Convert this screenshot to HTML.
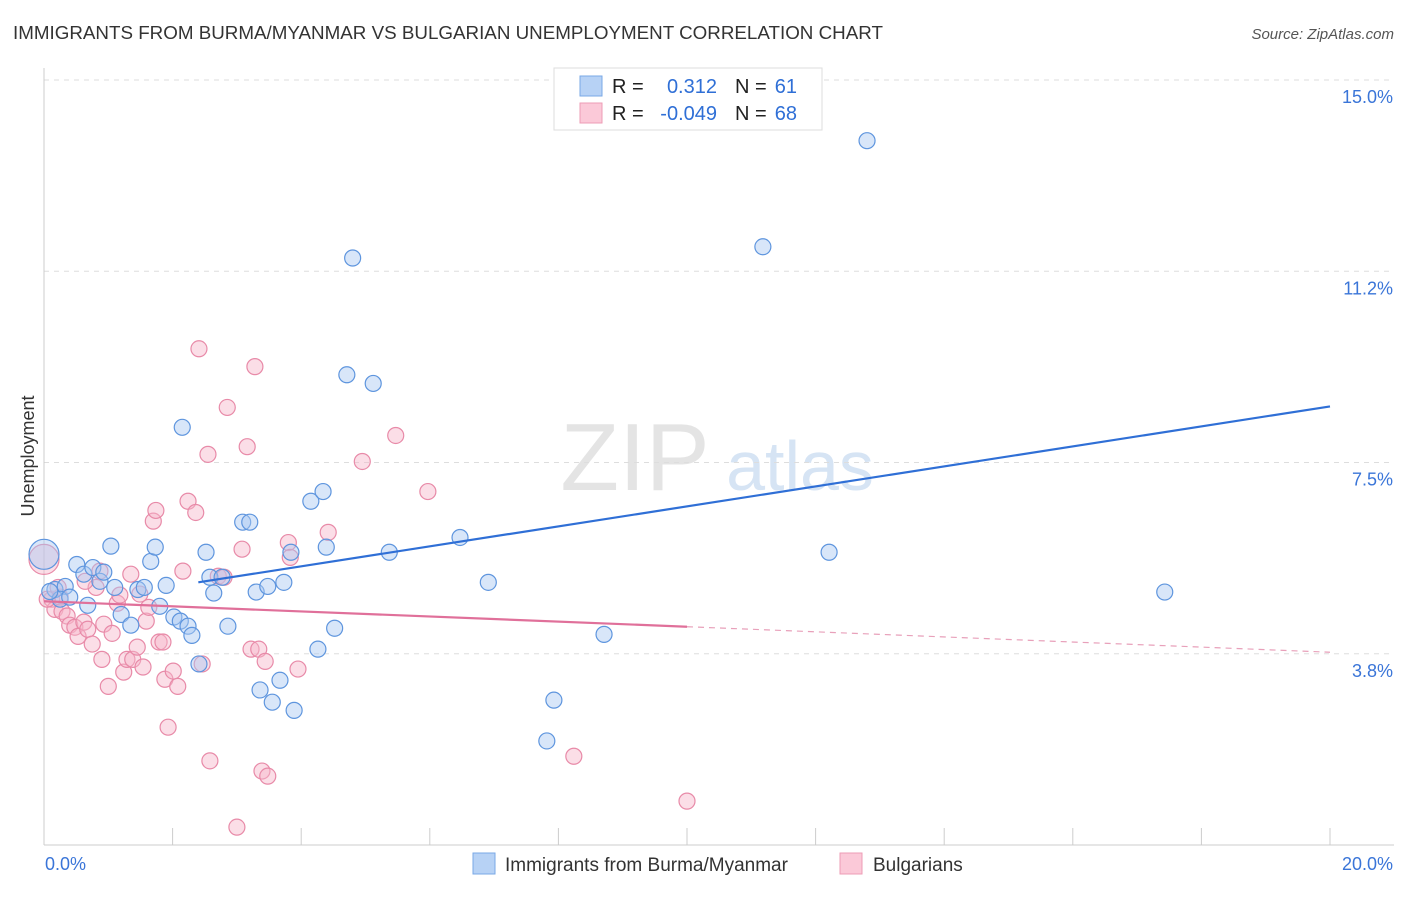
<!DOCTYPE html>
<html><head><meta charset="utf-8"><style>
body{margin:0;background:#fff;font-family:"Liberation Sans",sans-serif;}
svg text{font-family:"Liberation Sans",sans-serif;}
</style></head><body>
<svg id="chart" width="1406" height="892" xmlns="http://www.w3.org/2000/svg">
<text x="13" y="39" font-size="18.8" fill="#333">IMMIGRANTS FROM BURMA/MYANMAR VS BULGARIAN UNEMPLOYMENT CORRELATION CHART</text>
<text x="1394" y="39" font-size="15" fill="#555" text-anchor="end" font-style="italic">Source: ZipAtlas.com</text>
<g>
<text x="635" y="490" font-size="96" fill="#e4e4e4" text-anchor="middle" font-family="Liberation Serif">ZIP</text>
<text x="800" y="490" font-size="70" fill="#d6e4f4" text-anchor="middle">atlas</text>
</g>
<g id="grid"></g>
<g id="axes"></g>
<g id="marks"></g>
<g>
<rect x="554" y="68" width="268" height="62" fill="#fff" stroke="#ddd"/>
<rect x="580" y="76" width="22" height="20" fill="#b7d2f5" stroke="#7aa8e6"/>
<rect x="580" y="103" width="22" height="20" fill="#fbc9d8" stroke="#ee9cb6"/>
<text x="612" y="93" font-size="20" fill="#222">R =</text>
<text x="717" y="93" font-size="20" fill="#2f6fd6" text-anchor="end">0.312</text>
<text x="735" y="93" font-size="20" fill="#222">N =</text>
<text x="797" y="93" font-size="20" fill="#2f6fd6" text-anchor="end">61</text>
<text x="612" y="120" font-size="20" fill="#222">R =</text>
<text x="717" y="120" font-size="20" fill="#2f6fd6" text-anchor="end">-0.049</text>
<text x="735" y="120" font-size="20" fill="#222">N =</text>
<text x="797" y="120" font-size="20" fill="#2f6fd6" text-anchor="end">68</text>
</g>
<g>
<rect x="473" y="853" width="22" height="21" fill="#b7d2f5" stroke="#7aa8e6"/>
<text x="505" y="871" font-size="19" fill="#333">Immigrants from Burma/Myanmar</text>
<rect x="840" y="853" width="22" height="21" fill="#fbc9d8" stroke="#ee9cb6"/>
<text x="873" y="871" font-size="19" fill="#333">Bulgarians</text>
</g>
<text transform="translate(34,456) rotate(-90)" font-size="18" fill="#333" text-anchor="middle">Unemployment</text>
</svg>
<script>
const yTicks=[15.0,11.25,7.5,3.75];
const yTickLabels=["15.0%","11.2%","7.5%","3.8%"];
const xTickLabels=["0.0%","20.0%"];
const blueX=[0.00,0.17,0.33,0.51,0.62,0.68,0.76,0.87,0.93,1.04,1.10,1.20,1.35,1.46,1.56,1.66,1.73,1.80,1.90,2.02,2.15,2.12,2.24,2.30,2.41,2.52,2.58,2.64,2.77,2.86,3.09,3.20,3.30,3.36,3.48,3.55,3.67,3.73,3.84,3.89,4.15,4.26,4.34,4.39,4.52,4.71,4.80,5.12,5.37,6.47,6.91,7.82,7.93,8.71,11.18,12.21,12.80,17.43,0.25,0.40,0.09];
const blueY=[5.70,5.01,5.07,5.50,5.31,4.70,5.44,5.17,5.35,5.86,5.05,4.52,4.31,5.01,5.05,5.56,5.84,4.68,5.09,4.47,8.19,4.39,4.29,4.11,3.55,5.74,5.25,4.94,5.25,4.29,6.33,6.33,4.96,3.04,5.07,2.80,3.23,5.15,5.74,2.64,6.74,3.84,6.93,5.84,4.25,9.22,11.51,9.05,5.74,6.03,5.15,2.04,2.84,4.13,11.73,5.74,13.81,4.96,4.82,4.86,4.97];
const pinkX=[0,0.12,0.17,0.25,0.28,0.36,0.40,0.48,0.53,0.62,0.68,0.75,0.81,0.87,0.90,0.93,1.00,1.06,1.14,1.18,1.24,1.29,1.35,1.38,1.45,1.54,1.59,1.63,1.70,1.74,1.79,1.85,1.88,1.93,2.01,2.08,2.16,2.24,2.36,2.41,2.46,2.55,2.58,2.71,2.80,2.85,3.00,3.08,3.16,3.22,3.28,3.34,3.39,3.44,3.48,3.80,3.83,3.95,4.42,4.95,5.47,5.97,8.24,10.00,0.64,1.49,0.22,0.05];
const pinkY=[5.60,4.82,4.62,4.86,4.58,4.49,4.31,4.27,4.09,4.37,4.23,3.94,5.05,5.37,3.64,4.33,3.11,4.15,4.74,4.90,3.39,3.64,5.31,3.64,3.88,3.49,4.39,4.66,6.35,6.56,3.98,3.98,3.25,2.31,3.41,3.11,5.37,6.74,6.52,9.73,3.55,7.66,1.65,5.27,5.25,8.58,0.35,5.80,7.81,3.84,9.38,3.84,1.45,3.60,1.35,5.93,5.64,3.45,6.13,7.52,8.03,6.93,1.74,0.86,5.17,4.92,5.05,4.82];
const blueTrend=[[2.4,5.15],[20,8.6]];
const pinkTrendSolid=[[0,4.78],[10,4.28]];
const pinkTrendDash=[[10,4.28],[20,3.78]];
const NS="http://www.w3.org/2000/svg";
const X0=44,X1=1330,Y0=845,YTOP=80;
const sx=v=>X0+(X1-X0)*v/20;
const sy=v=>Y0-(Y0-YTOP)*v/15;
function mk(tag,attrs,parent){const e=document.createElementNS(NS,tag);for(const k in attrs)e.setAttribute(k,attrs[k]);parent.appendChild(e);return e;}
const grid=document.getElementById('grid'),axes=document.getElementById('axes'),marks=document.getElementById('marks');
yTicks.forEach((t,i)=>{
 const l=mk('line',{x1:X0,x2:1394,y1:sy(t),y2:sy(t),stroke:'#ddd','stroke-dasharray':'5,5'},grid);
 
 
 const tx=mk('text',{x:1393,y:sy(t)+23,'font-size':18,fill:'#3a75d8','text-anchor':'end'},axes);
 tx.textContent=yTickLabels[i];
 
 
});
const ya=mk('line',{x1:X0,x2:X0,y1:68,y2:Y0,stroke:'#ccc'},axes);


const xa=mk('line',{x1:X0,x2:1394,y1:Y0,y2:Y0,stroke:'#ccc'},axes);


for(let i=1;i<=10;i++){const t=mk('line',{x1:sx(i*2),x2:sx(i*2),y1:828,y2:Y0,stroke:'#ccc'},axes);
 
 }
[[X0+1,'start',0],[1393,'end',1]].forEach(([x,a,i])=>{const t=mk('text',{x:x,y:870,'font-size':18,fill:'#3a75d8','text-anchor':a},axes);t.textContent=xTickLabels[i];
 
 });
function pts(xs,ys,fill,stroke,name){xs.forEach((x,i)=>{const big=(x===0);const c=mk('circle',{cx:sx(x),cy:sy(ys[i]),r:big?15:8,fill:fill,'fill-opacity':0.45,stroke:stroke,'stroke-width':1.2},marks);
 
 });}
pts(pinkX,pinkY,'#f7b6ca','#e88aa8','bulgarians-point');
pts(blueX,blueY,'#a9c8f1','#5e95de','burma-point');
function ln(p,color,name,dash,w){const l=mk('line',{x1:sx(p[0][0]),y1:sy(p[0][1]),x2:sx(p[1][0]),y2:sy(p[1][1]),stroke:color,'stroke-width':w},marks);if(dash)l.setAttribute('stroke-dasharray',dash);
 
 }
ln(blueTrend,'#2f6fd6','burma-trend-line',null,2.2);
ln(pinkTrendSolid,'#e0709a','bulgarians-trend-line',null,2.2);
ln(pinkTrendDash,'#e8a0ba','bulgarians-trend-extension','6,5',1.2);
</script>
</body></html>
